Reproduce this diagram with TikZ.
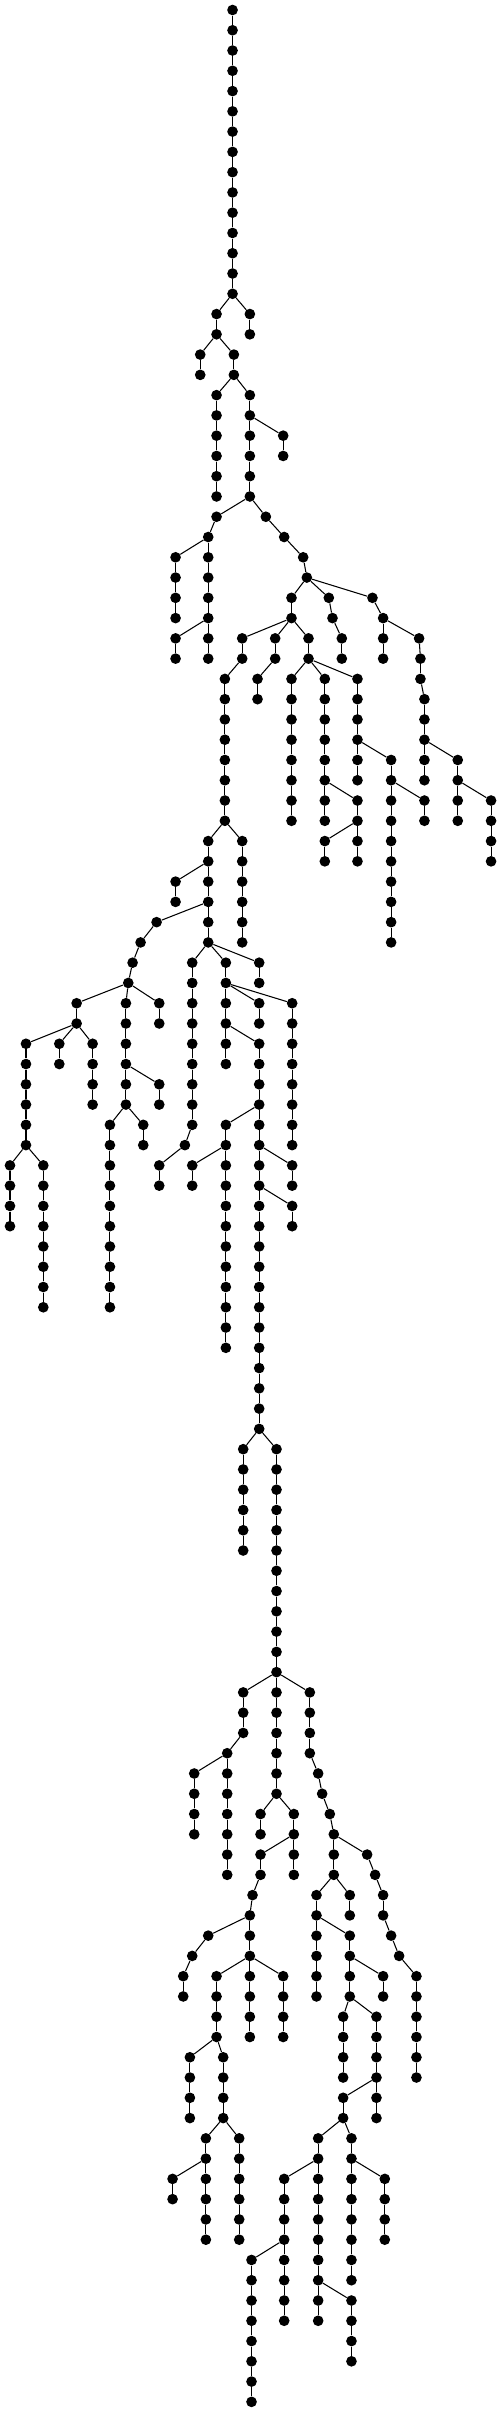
\documentclass[tikz,border=0pt]{standalone}
\usepackage{tikz}
\tikzset{
  dot/.style={circle, fill=black, inner sep=0pt, minimum size=0.32cm},
  edge/.style={black, line width=0.9pt}
}
% vertical run of dots: id, x (1/100 cm), first level, last level, parent
\newcommand{\vchain}[5]{%
  \foreach \l in {#3,...,#4}{%
    \node[dot] (#1-\l) at ({#2*0.01},{-\l*0.6081}) {};
    \ifnum\l>#3 \pgfmathtruncatemacro\k{\l-1}\draw[edge] (#1-\k) -- (#1-\l);\fi
  }%
  \if\relax\detokenize{#5}\relax\else\draw[edge] (#5) -- (#1-#3);\fi
}

\begin{document}
\begin{tikzpicture}
  \useasboundingbox (0,0.3) rectangle (15.06,-72.06);
  % upper part
  \vchain{r}{698}{0}{14}{}
  \vchain{a}{650}{15}{16}{r-14}
  \vchain{b}{750}{15}{16}{r-14}
  \vchain{c}{601}{17}{18}{a-16}
  \vchain{d}{702}{17}{18}{a-16}
  \vchain{e}{650}{19}{24}{d-18}
  \vchain{f}{750}{19}{24}{d-18}
  \vchain{g}{850}{21}{22}{f-20}
  \vchain{h}{650}{25}{25}{f-24}
  \vchain{i}{625}{26}{32}{h-25}
  \vchain{j}{527}{27}{30}{i-26}
  \vchain{k}{527}{31}{32}{i-30}
  \vchain{m}{798}{25}{25}{f-24}
  \vchain{n}{853}{26}{26}{m-25}
  \vchain{o}{910}{27}{27}{n-26}
  \vchain{p}{921}{28}{28}{o-27}
  \vchain{q}{875}{29}{30}{p-28}
  \vchain{s}{987}{29}{29}{p-28}
  \vchain{t}{998}{30}{30}{s-29}
  \vchain{u}{1026}{31}{32}{t-30}
  \vchain{v}{1118}{29}{29}{p-28}
  \vchain{w}{1150}{30}{32}{v-29}
  \vchain{x}{1258}{31}{31}{w-30}
  \vchain{y}{1262}{32}{33}{x-31}
  \vchain{z}{1274}{34}{38}{y-33}
  \vchain{aa}{727}{31}{32}{q-30}
  \vchain{ab}{675}{33}{40}{aa-32}
  \vchain{ac}{826}{31}{32}{q-30}
  \vchain{ad}{773}{33}{34}{ac-32}
  \vchain{ae}{926}{31}{32}{q-30}
  \vchain{af}{875}{33}{40}{ae-32}
  \vchain{ag}{975}{33}{40}{ae-32}
  \vchain{ah}{1073}{33}{38}{ae-32}
  \vchain{ai}{1174}{37}{46}{ah-36}
  \vchain{aj}{1274}{39}{40}{ai-38}
  \vchain{ak}{1374}{37}{40}{z-36}
  \vchain{al}{1474}{39}{42}{ak-38}
  \vchain{am}{1073}{39}{42}{ag-38}
  \vchain{an}{975}{41}{42}{am-40}
  % middle part
  \vchain{ao}{625}{41}{46}{ab-40}
  \vchain{ap}{727}{41}{46}{ab-40}
  \vchain{aq}{527}{43}{44}{ao-42}
  \vchain{ar}{470}{45}{45}{ao-44}
  \vchain{as}{422}{46}{46}{ar-45}
  \vchain{at}{398}{47}{47}{as-46}
  \vchain{au}{385}{48}{48}{at-47}
  \vchain{av}{577}{47}{55}{ao-46}
  \vchain{aw}{555}{56}{56}{av-55}
  \vchain{ax}{478}{57}{58}{aw-56}
  \vchain{ay}{678}{47}{52}{ao-46}
  \vchain{az}{778}{47}{48}{ao-46}
  \vchain{ba}{778}{49}{50}{ay-48}
  \vchain{bb}{877}{49}{56}{ay-48}
  \vchain{bc}{778}{51}{70}{ay-50}
  \vchain{bd}{678}{55}{66}{bc-54}
  \vchain{be}{577}{57}{58}{bd-56}
  \vchain{bf}{877}{57}{58}{bc-56}
  \vchain{bg}{877}{59}{60}{bc-58}
  \vchain{bh}{230}{49}{50}{au-48}
  \vchain{bi}{378}{49}{54}{au-48}
  \vchain{bj}{478}{49}{50}{au-48}
  \vchain{bk}{78}{51}{56}{bh-50}
  \vchain{bl}{178}{51}{52}{bh-50}
  \vchain{bm}{278}{51}{54}{bh-50}
  \vchain{bn}{478}{53}{54}{bi-52}
  \vchain{bo}{330}{55}{64}{bi-54}
  \vchain{bp}{430}{55}{56}{bi-54}
  \vchain{bq}{30}{57}{60}{bk-56}
  \vchain{br}{130}{57}{64}{bk-56}
  % lower part
  \vchain{bs}{730}{71}{76}{bc-70}
  \vchain{bt}{830}{71}{88}{bc-70}
  \vchain{bu}{730}{83}{85}{bt-82}
  \vchain{bv}{682}{86}{92}{bu-85}
  \vchain{bw}{583}{87}{90}{bv-86}
  \vchain{bx}{930}{83}{86}{bt-82}
  \vchain{by}{955}{87}{87}{bx-86}
  \vchain{bz}{967}{88}{88}{by-87}
  \vchain{ca}{990}{89}{89}{bz-88}
  \vchain{cb}{1002}{90}{92}{ca-89}
  \vchain{cc}{1102}{91}{91}{cb-90}
  \vchain{cd}{1126}{92}{92}{cc-91}
  \vchain{ce}{1150}{93}{94}{cd-92}
  \vchain{cf}{1174}{95}{95}{ce-94}
  \vchain{cg}{1198}{96}{96}{cf-95}
  \vchain{ch}{1250}{97}{102}{cg-96}
  \vchain{ci}{782}{89}{90}{bt-88}
  \vchain{cj}{882}{89}{92}{bt-88}
  \vchain{ck}{782}{91}{92}{cj-90}
  \vchain{cl}{758}{93}{93}{ck-92}
  \vchain{cm}{750}{94}{100}{cl-93}
  \vchain{cn}{625}{95}{95}{cm-94}
  \vchain{co}{577}{96}{96}{cn-95}
  \vchain{cp}{550}{97}{98}{co-96}
  \vchain{cq}{650}{97}{100}{cm-96}
  \vchain{cr}{850}{97}{100}{cm-96}
  \vchain{cs}{950}{93}{98}{cb-92}
  \vchain{ct}{1050}{93}{94}{cb-92}
  \vchain{cu}{1050}{95}{98}{cs-94}
  \vchain{cv}{1150}{97}{98}{cu-96}
  \vchain{cw}{570}{101}{104}{cq-100}
  \vchain{cx}{670}{101}{104}{cq-100}
  \vchain{cy}{618}{105}{110}{cx-104}
  \vchain{cz}{718}{105}{110}{cx-104}
  \vchain{da}{518}{107}{108}{cy-106}
  \vchain{db}{1030}{99}{102}{cu-98}
  \vchain{dc}{1130}{99}{104}{cu-98}
  \vchain{dd}{1030}{103}{104}{dc-102}
  \vchain{de}{955}{105}{114}{dd-104}
  \vchain{df}{1055}{105}{112}{dd-104}
  \vchain{dg}{853}{107}{114}{de-106}
  \vchain{dh}{1155}{107}{110}{df-106}
  \vchain{di}{755}{111}{118}{dg-110}
  \vchain{dj}{1055}{113}{116}{de-112}
\end{tikzpicture}
\end{document}
